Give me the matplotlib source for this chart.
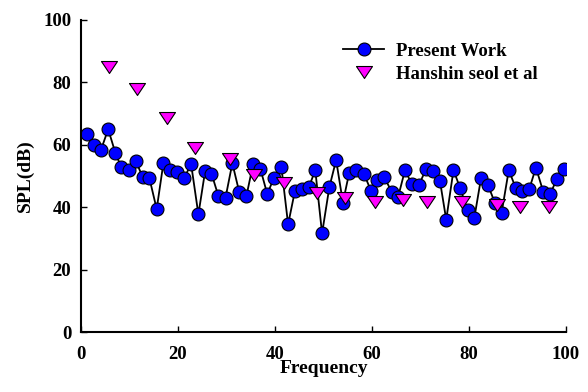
import matplotlib
matplotlib.use("Agg")
from matplotlib import pyplot as plt

plt.rcParams["font.family"] = ["Liberation Serif", "DejaVu Serif"]
plt.rcParams["font.weight"] = "bold"

# present work
freq = [1.3, 2.7, 4.1, 5.6, 7.1, 8.3, 9.8, 11.3, 12.7, 14.1,
        15.6, 17.0, 18.4, 19.8, 21.3, 22.7, 24.2, 25.6, 26.9, 28.3,
        29.8, 31.2, 32.6, 34.1, 35.5, 37.0, 38.4, 39.8, 41.3, 42.7,
        44.1, 45.6, 47.0, 48.3, 49.7, 51.2, 52.6, 54.0, 55.3, 56.8,
        58.4, 59.8, 61.1, 62.5, 64.1, 65.4, 66.8, 68.2, 69.7, 71.1,
        72.6, 74.0, 75.3, 76.8, 78.2, 79.7, 81.1, 82.5, 83.9, 85.4,
        86.7, 88.2, 89.6, 90.9, 92.4, 93.8, 95.3, 96.7, 98.1, 99.5]
spl = [63.5, 60.0, 58.3, 65.0, 57.3, 52.8, 51.9, 54.8, 49.7, 49.3,
       39.4, 54.3, 51.9, 51.2, 49.5, 53.8, 37.7, 51.7, 50.8, 43.7,
       43.1, 54.1, 45.0, 43.6, 53.9, 52.2, 44.2, 49.5, 53.0, 34.5,
       45.2, 45.8, 46.5, 51.9, 31.6, 46.4, 55.1, 41.5, 51.1, 51.9,
       50.5, 45.2, 48.7, 49.7, 44.8, 43.4, 51.9, 47.4, 47.2, 52.1,
       51.6, 48.5, 36.0, 51.9, 46.0, 39.1, 36.6, 49.5, 47.1, 41.2,
       38.0, 51.9, 46.3, 45.2, 45.7, 52.7, 45.0, 44.1, 49.0, 52.4]

# Hanshin seol et al
ref_freq = [5.7, 11.5, 17.8, 23.5, 30.7, 35.6, 41.9, 48.7,
            54.4, 60.6, 66.4, 71.3, 78.5, 85.7, 90.6, 96.4]
ref_spl = [84.8, 77.9, 68.7, 59.0, 55.3, 50.4, 47.9, 44.7,
           43.1, 41.8, 42.3, 41.8, 41.8, 40.7, 40.0, 40.1]

tri = [(-1, 0.75), (1, 0.75), (0, -0.75), (-1, 0.75)]

fig = plt.figure(figsize=(5.88, 3.92), dpi=100)
ax = fig.add_axes([0.1378, 0.153, 0.8248, 0.796])

ax.plot(freq, spl, color="black", lw=1.3, marker="o", ms=9.3,
        mfc="#0000ff", mec="black", mew=0.8, label="Present Work", zorder=2)
ax.plot(ref_freq, ref_spl, ls="none", marker=tri, ms=11.5,
        mfc="#ff00ff", mec="black", mew=0.8, label="Hanshin seol et al", zorder=3)

ax.set_xlim(0, 100)
ax.set_ylim(0, 100)
ax.set_xticks([0, 20, 40, 60, 80, 100])
ax.set_yticks([0, 20, 40, 60, 80, 100])
ax.spines["top"].set_visible(False)
ax.spines["right"].set_visible(False)
for s in ("left", "bottom"):
    ax.spines[s].set_linewidth(1.5)
ax.tick_params(axis="x", direction="in", length=4, width=1, pad=10, labelsize=13.5)
ax.tick_params(axis="y", direction="in", length=4, width=1, pad=7, labelsize=13.5)

ax.set_xlabel("Frequency", fontsize=14, fontweight="bold", labelpad=-2)
ax.set_ylabel("SPL(dB)", fontsize=14, fontweight="bold", labelpad=7)

ax.legend(loc="upper left", bbox_to_anchor=(0.521, 0.957), frameon=False,
          handlelength=2.2, handletextpad=0.6, labelspacing=0.3,
          borderpad=0, prop={"family": "Liberation Serif", "weight": "bold", "size": 13.5})

fig.savefig("out.png", dpi=100)
